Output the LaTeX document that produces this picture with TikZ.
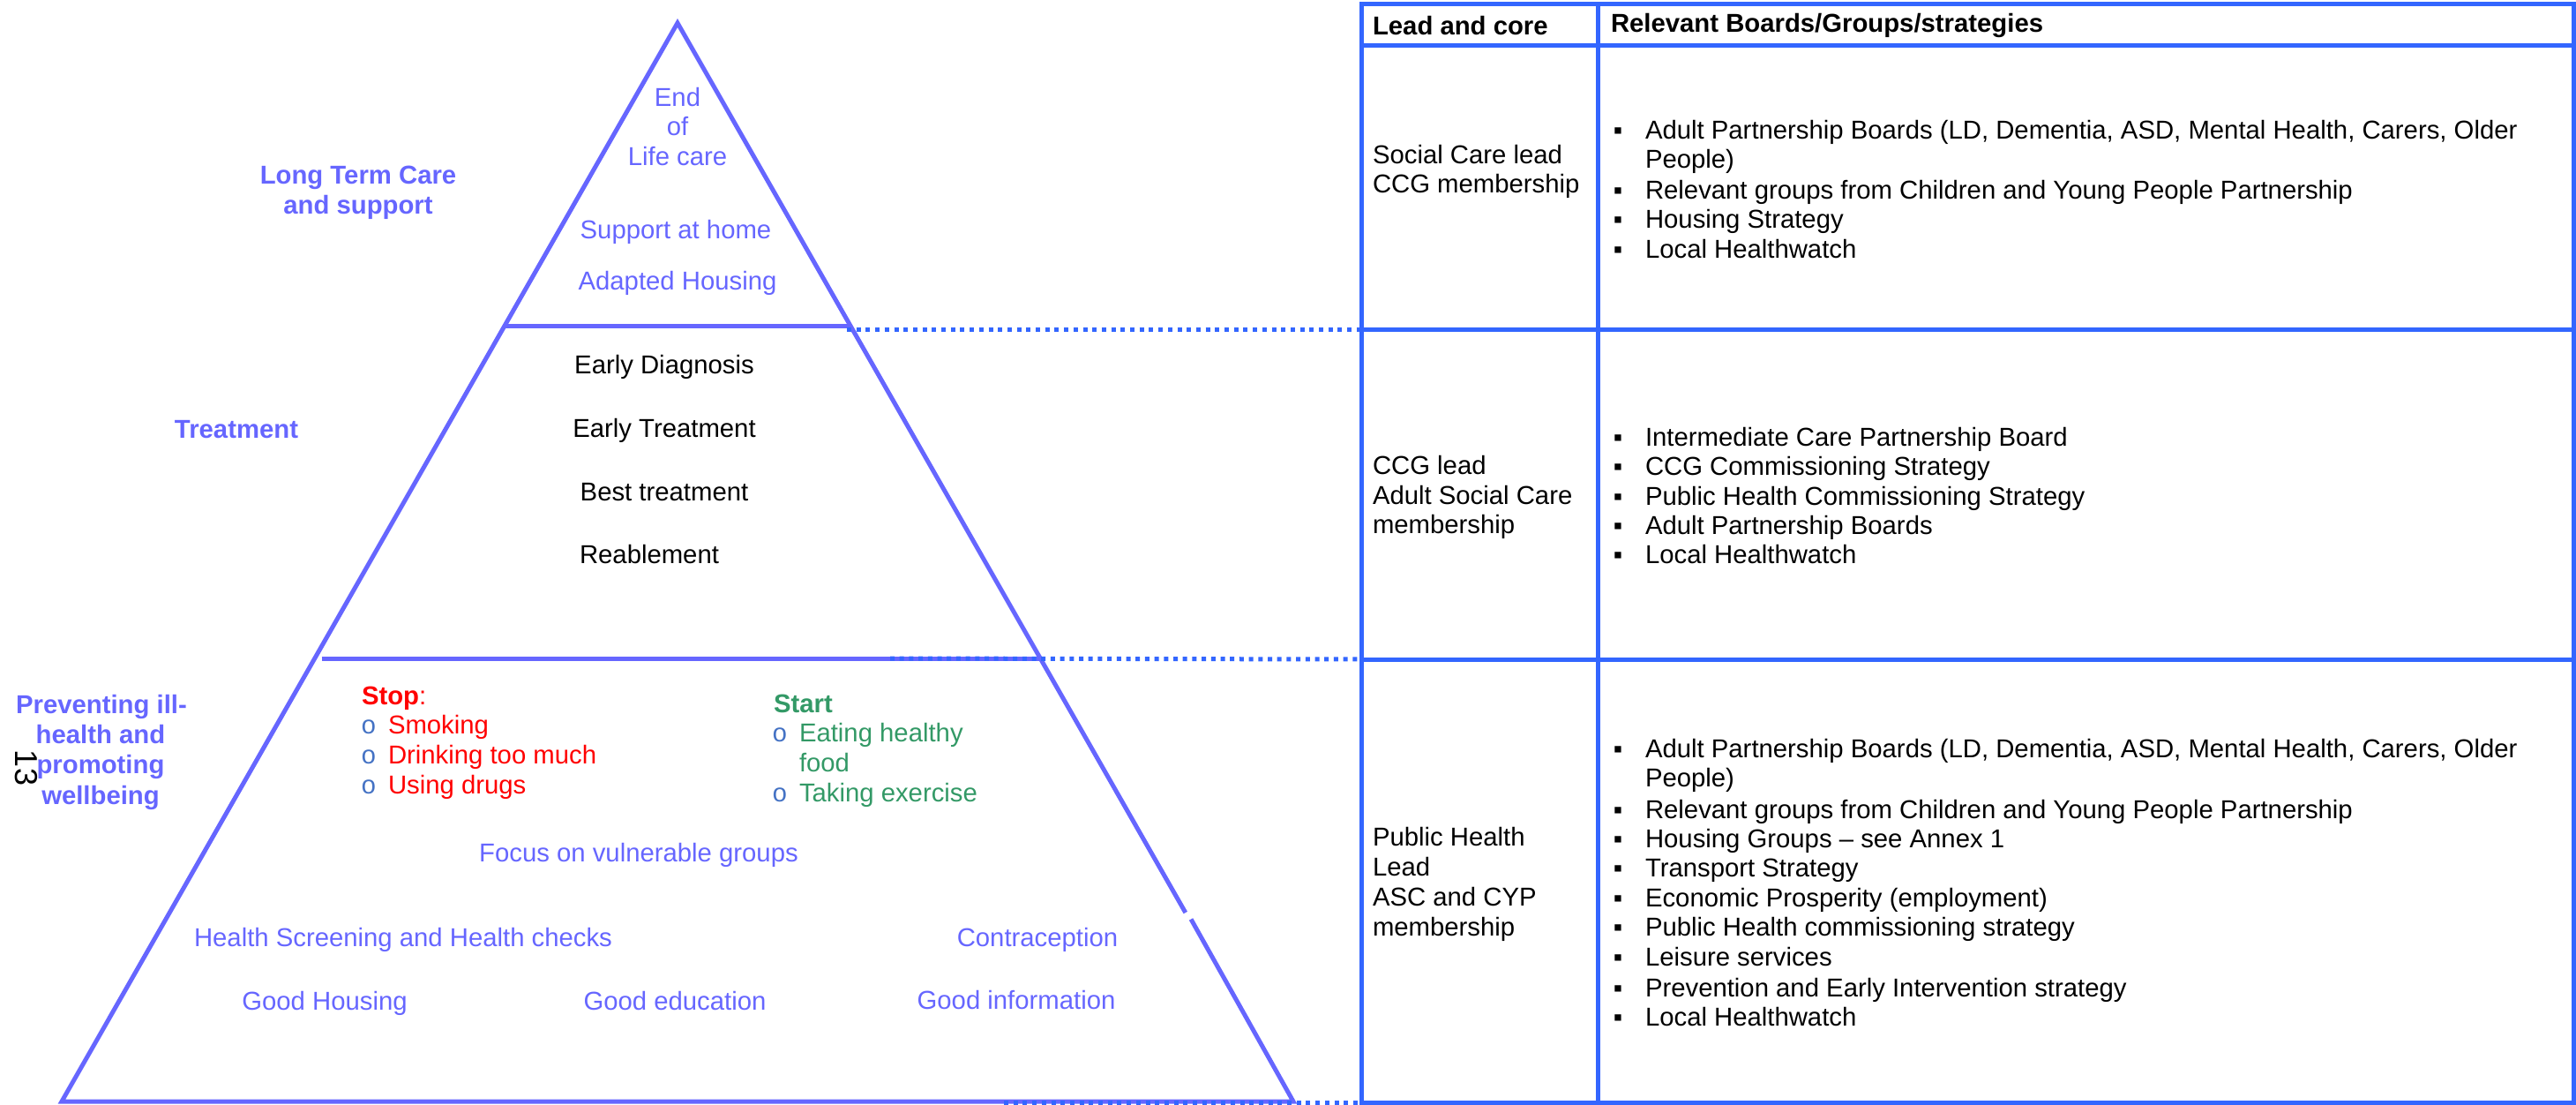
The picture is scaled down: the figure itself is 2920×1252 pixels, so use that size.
\documentclass[tikz,border=0pt]{standalone}
\usepackage{fontspec}
\setmainfont{Liberation Sans}
\newfontfamily\monofnt{Liberation Mono}
\usetikzlibrary{calc}
\definecolor{tri}{HTML}{6666FF}
\definecolor{tbl}{HTML}{3366FF}
\definecolor{grn}{HTML}{339966}
\definecolor{bul}{HTML}{4472C4}
\definecolor{stopred}{HTML}{FF0000}
\begin{document}
\begin{tikzpicture}[x=1pt,y=-1pt,
  txt/.style={inner sep=0pt,outer sep=0pt,text height=21pt,text depth=0pt,font=\fontsize{29.3}{35}\selectfont},
  tritxt/.style={txt,text=tri},
  tribold/.style={txt,text=tri,font=\fontsize{29.3}{35}\selectfont\bfseries},
  blk/.style={txt,text=black},
  tblhead/.style={txt,font=\fontsize{29.3}{35}\selectfont\bfseries,anchor=west},
  cell/.style={txt,anchor=west},
  sqbul/.style={txt,anchor=center},
  obul/.style={txt,text=bul,font=\fontsize{29.3}{35}\selectfont\monofnt,anchor=center},
  triline/.style={draw=tri,line width=5pt},
  tblline/.style={draw=tbl,line width=5pt},
  dotline/.style={draw=tbl,line width=5pt,dash pattern=on 5pt off 5.7pt},
]
\useasboundingbox (0,0) rectangle (2920,1252);

% ---------- pyramid ----------
\coordinate (apex) at (768,26);
\coordinate (bl) at (70,1248);
\coordinate (br) at (1466,1248);
\coordinate (g1) at ($(apex)!0.8249!(br)$);
\coordinate (g2) at ($(apex)!0.8310!(br)+(2,0)$);
\draw[triline,line join=miter] (g1) -- (apex) -- (bl) -- (br) -- (g2);
\coordinate (d1l) at ($(apex)!0.2815!(bl)$);
\coordinate (d1r) at ($(apex)!0.2815!(br)$);
\coordinate (d2l) at ($(apex)!0.5892!(bl)+(8,0)$);
\coordinate (d2r) at ($(apex)!0.5892!(br)$);
\draw[triline] (d1l) -- (d1r);
\draw[triline] (d2l) -- (d2r);

% ---------- table ----------
\coordinate (tTL) at (1543,5);
\coordinate (tBR) at (2917,1249);
\coordinate (tH1) at (1543,52);   \coordinate (tH2) at (2917,52);
\coordinate (tR1a) at (1543,373); \coordinate (tR1b) at (2917,373);
\coordinate (tR2a) at (1543,747); \coordinate (tR2b) at (2917,747);
\coordinate (tMt) at (1811,5);    \coordinate (tMb) at (1811,1249);
\draw[tblline] (tTL) rectangle (tBR);
\draw[tblline] (tH1) -- (tH2);
\draw[tblline] (tR1a) -- (tR1b);
\draw[tblline] (tR2a) -- (tR2b);
\draw[tblline] (tMt) -- (tMb);

% ---------- dotted links ----------
\coordinate (s1) at (960,373);
\coordinate (s2) at (1009,746);
\coordinate (s3) at (1138,1249);
\coordinate (e3) at (1543,1249);
\draw[dotline] (s1) -- (tR1a);
\draw[dotline] (s2) -- (tR2a);
\draw[dotline] (s3) -- (e3);

% ---------- side labels ----------
\node[tribold] (ltc1) at (406,198) {Long Term Care};
\node[tribold] (ltc2) at (406,232) {and support};
\node[tribold] (trt) at (268,486) {Treatment};
\node[tribold] (pv1) at (115,798) {Preventing ill-};
\node[tribold] (pv2) at (114,832) {health and};
\node[tribold] (pv3) at (114,866) {promoting};
\node[tribold] (pv4) at (114,901) {wellbeing};
\node[inner sep=0pt,rotate=-90,font=\fontsize{36}{40}\selectfont] (pgno) at (30,870) {13};

% ---------- top section ----------
\node[tritxt] (eol1) at (768,110) {End};
\node[tritxt] (eol2) at (768,143) {of};
\node[tritxt] (eol3) at (768,177) {Life care};
\node[tritxt] (sah) at (766,260) {Support at home};
\node[tritxt] (adh) at (768,318) {Adapted Housing};

% ---------- middle section ----------
\node[blk] (ed) at (753,413) {Early Diagnosis};
\node[blk] (et) at (753,485) {Early Treatment};
\node[blk] (bt) at (753,557) {Best treatment};
\node[blk] (rb) at (736,628) {Reablement};

% ---------- bottom section ----------
\node[txt,anchor=west,text=stopred] (stop) at (410,788) {\bfseries Stop\mdseries:};
\node[obul] (sb1) at (418,821) {o};
\node[obul] (sb2) at (418,855) {o};
\node[obul] (sb3) at (418,889) {o};
\node[txt,anchor=west,text=stopred] (si1) at (440,821) {Smoking};
\node[txt,anchor=west,text=stopred] (si2) at (440,855) {Drinking too much};
\node[txt,anchor=west,text=stopred] (si3) at (440,889) {Using drugs};

\node[txt,anchor=west,text=grn,font=\fontsize{29.3}{35}\selectfont\bfseries] (start) at (877,797) {Start};
\node[obul] (gb1) at (884,830) {o};
\node[obul] (gb2) at (884,898) {o};
\node[txt,anchor=west,text=grn] (gi1) at (906,830) {Eating healthy};
\node[txt,anchor=west,text=grn] (gi1b) at (906,864) {food};
\node[txt,anchor=west,text=grn] (gi2) at (906,898) {Taking exercise};

\node[tritxt] (fvg) at (724,966) {Focus on vulnerable groups};
\node[tritxt] (hsc) at (457,1062) {Health Screening and Health checks};
\node[tritxt] (con) at (1176,1062) {Contraception};
\node[tritxt] (gh) at (368,1134) {Good Housing};
\node[tritxt] (ge) at (765,1134) {Good education};
\node[tritxt] (gi) at (1152,1133) {Good information};

% ---------- table text ----------
\node[tblhead] (h1) at (1556,29) {Lead and core};
\node[tblhead] (h2) at (1826,26) {Relevant Boards/Groups/strategies};

% row 1
\node[cell] (r1l1) at (1556,175) {Social Care lead};
\node[cell] (r1l2) at (1556,208) {CCG membership};
\foreach \n/\y in {a/147,b/215,c/248,d/282}{
  \node[sqbul] (r1b\n) at (1834,\y) {▪};
}
\node[cell] (r1i1) at (1865,147) {Adult Partnership Boards (LD, Dementia, ASD, Mental Health, Carers, Older};
\node[cell] (r1i1b) at (1865,180) {People)};
\node[cell] (r1i2) at (1865,215) {Relevant groups from Children and Young People Partnership};
\node[cell] (r1i3) at (1865,248) {Housing Strategy};
\node[cell] (r1i4) at (1865,282) {Local Healthwatch};

% row 2
\node[cell] (r2l1) at (1556,527) {CCG lead};
\node[cell] (r2l2) at (1556,561) {Adult Social Care};
\node[cell] (r2l3) at (1556,594) {membership};
\foreach \n/\y in {a/495,b/528,c/562,d/595,e/628}{
  \node[sqbul] (r2b\n) at (1834,\y) {▪};
}
\node[cell] (r2i1) at (1865,495) {Intermediate Care Partnership Board};
\node[cell] (r2i2) at (1865,528) {CCG Commissioning Strategy};
\node[cell] (r2i3) at (1865,562) {Public Health Commissioning Strategy};
\node[cell] (r2i4) at (1865,595) {Adult Partnership Boards};
\node[cell] (r2i5) at (1865,628) {Local Healthwatch};

% row 3
\node[cell] (r3l1) at (1556,948) {Public Health};
\node[cell] (r3l2) at (1556,982) {Lead};
\node[cell] (r3l3) at (1556,1016) {ASC and CYP};
\node[cell] (r3l4) at (1556,1050) {membership};
\foreach \n/\y in {a/848,b/917,c/950,d/983,e/1017,f/1050,g/1084,h/1119,i/1152}{
  \node[sqbul] (r3b\n) at (1834,\y) {▪};
}
\node[cell] (r3i1) at (1865,848) {Adult Partnership Boards (LD, Dementia, ASD, Mental Health, Carers, Older};
\node[cell] (r3i1b) at (1865,881) {People)};
\node[cell] (r3i2) at (1865,917) {Relevant groups from Children and Young People Partnership};
\node[cell] (r3i3) at (1865,950) {Housing Groups – see Annex 1};
\node[cell] (r3i4) at (1865,983) {Transport Strategy};
\node[cell] (r3i5) at (1865,1017) {Economic Prosperity (employment)};
\node[cell] (r3i6) at (1865,1050) {Public Health commissioning strategy};
\node[cell] (r3i7) at (1865,1084) {Leisure services};
\node[cell] (r3i8) at (1865,1119) {Prevention and Early Intervention strategy};
\node[cell] (r3i9) at (1865,1152) {Local Healthwatch};
\end{tikzpicture}
\end{document}
